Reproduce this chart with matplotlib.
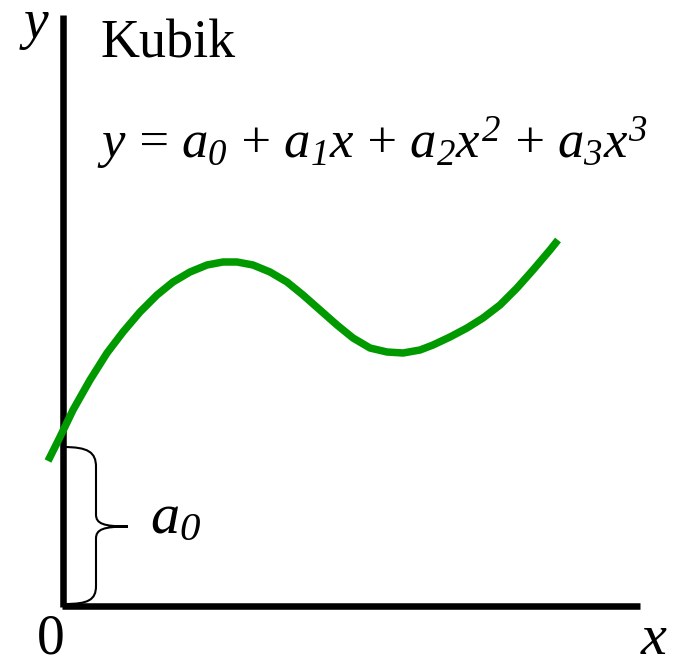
import matplotlib
matplotlib.use("Agg")
import matplotlib.pyplot as plt
from matplotlib.path import Path
from matplotlib.patches import PathPatch

plt.rcParams['mathtext.fontset'] = 'custom'
plt.rcParams['mathtext.rm'] = 'Liberation Serif:italic'
plt.rcParams['mathtext.it'] = 'Liberation Serif:italic'
plt.rcParams['font.family'] = 'Liberation Serif'

# curve (units: pixels from the axis corner)
curve_x = [-15, -3, 10, 27, 44, 60, 77, 94, 110, 127, 144, 160, 174, 190, 207, 224,
           240, 257, 274, 290, 307, 324, 340, 357, 370, 387, 404, 420, 437, 454, 470, 487, 495]
curve_y = [145, 169, 196, 226, 253, 274, 294, 311, 324, 334, 341, 344, 344, 341, 334, 324,
           311, 296, 281, 268, 258, 254, 253, 256, 261, 269, 278, 288, 301, 318, 336, 356, 366]
a0 = 159
x_axis_len = 577
y_axis_len = 591

fig = plt.figure(figsize=(6.74, 6.67), dpi=100)
ax = fig.add_axes([0, 0, 1, 1])
ax.set_xlim(-63, 611)
ax.set_ylim(-61, 606)
ax.axis('off')

# axes
ax.plot([0, 0], [-1, y_axis_len], color='black', lw=4.7, solid_capstyle='butt')
ax.plot([-1, x_axis_len], [0, 0], color='black', lw=4.7, solid_capstyle='butt')

# cubic curve
ax.plot(curve_x, curve_y, color='#009900', lw=5.4, solid_capstyle='butt', solid_joinstyle='round')

# brace for a0
mid = a0 / 2
verts = [(0, a0), (25, a0), (33, a0 - 5), (33, a0 - 20),
         (33, mid + 12),
         (33, mid + 3), (40, mid), (65, mid),
         (40, mid), (33, mid - 3), (33, mid - 12),
         (33, 20),
         (33, 6), (25, 2), (2, 2)]
codes = [Path.MOVETO, Path.CURVE4, Path.CURVE4, Path.CURVE4,
         Path.LINETO,
         Path.CURVE4, Path.CURVE4, Path.CURVE4,
         Path.CURVE4, Path.CURVE4, Path.CURVE4,
         Path.LINETO,
         Path.CURVE4, Path.CURVE4, Path.CURVE4]
ax.add_patch(PathPatch(Path(verts, codes), fill=False, lw=1.5, edgecolor='black'))

sp = r'\hspace{0.075}'
eq = r'$y' + sp + '=' + sp + 'a_0' + sp + '+' + sp + 'a_1x' + sp + '+' + sp + \
     'a_2x^2' + sp + '+' + sp + 'a_3x^3$'

ax.text(37, 549, 'Kubik', fontsize=39, ha='left', va='baseline')
ax.text(34, 448, eq, fontsize=38, ha='left', va='baseline')
ax.text(87, 73, r'$a_0$', fontsize=42, ha='left', va='baseline')
ax.text(-28, 568, r'$y$', fontsize=40, ha='center', va='baseline')
ax.text(591, -48, r'$x$', fontsize=42, ha='center', va='baseline')
ax.text(-12, -48, '0', fontsize=40, ha='center', va='baseline')

fig.savefig('out.png', dpi=100)
